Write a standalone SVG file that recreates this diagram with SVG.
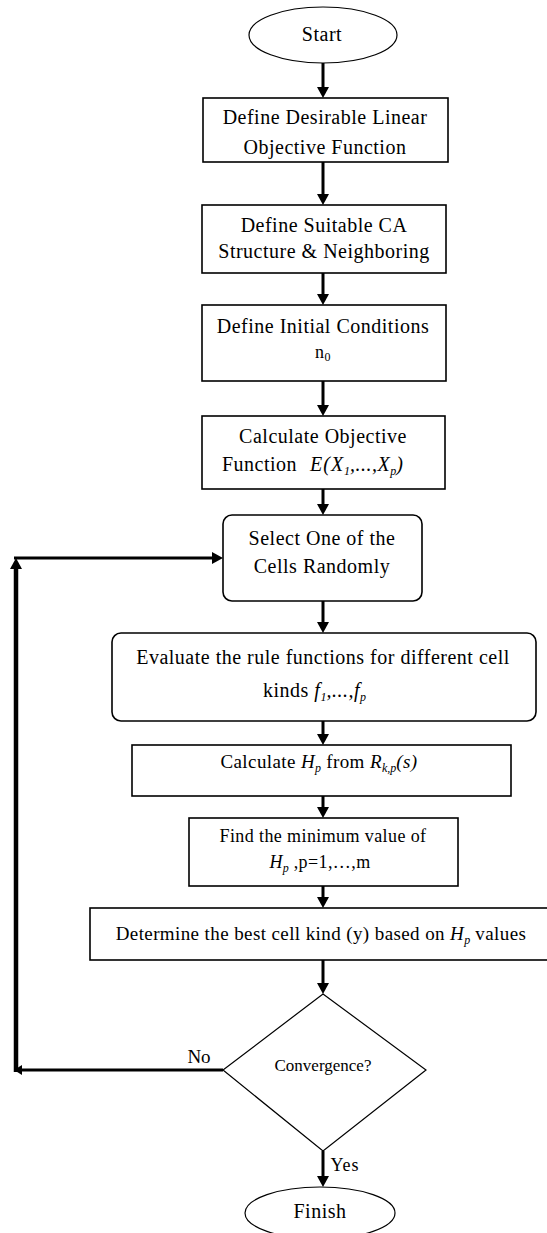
<svg xmlns="http://www.w3.org/2000/svg" width="547" height="1233" viewBox="0 0 547 1233">
  <style>
    .box { fill: #ffffff; stroke: #000000; stroke-width: 1.6; }
    .term { fill: #ffffff; stroke: #000000; stroke-width: 1.2; }
    .t { font-family: "Liberation Serif", "Times New Roman", serif; font-size: 20px; letter-spacing: 0.5px; fill: #000000; text-anchor: middle; }
    .s { font-size: 18px; letter-spacing: 0.4px; }
    .s2 { font-size: 19px; letter-spacing: 0.4px; }
    .m { font-style: italic; }
    .sub { font-size: 12px; font-style: italic; letter-spacing: 0; }
    .flow { fill: none; stroke: #000000; stroke-width: 3; }
    .loop { fill: none; stroke: #000000; stroke-width: 4.5; }
  </style>
  <defs>
    <marker id="arrow" viewBox="0 -6 11 12" markerWidth="11" markerHeight="12" refX="0" refY="0" markerUnits="userSpaceOnUse" orient="auto">
      <path d="M0,-6 L11,0 L0,6 z" fill="#000000"/>
    </marker>
    <marker id="arrow-small" viewBox="0 -5 8 10" markerWidth="8" markerHeight="10" refX="0" refY="0" markerUnits="userSpaceOnUse" orient="auto">
      <path d="M0,-5 L8,0 L0,5 z" fill="#000000"/>
    </marker>
  </defs>

  <!-- connectors -->
  <g id="connectors">
    <line class="flow" x1="323" y1="63" x2="323" y2="87" marker-end="url(#arrow)"/>
    <line class="flow" x1="323" y1="162" x2="323" y2="194" marker-end="url(#arrow)"/>
    <line class="flow" x1="323" y1="273" x2="323" y2="294" marker-end="url(#arrow)"/>
    <line class="flow" x1="323" y1="381" x2="323" y2="405" marker-end="url(#arrow)"/>
    <line class="flow" x1="323" y1="489" x2="323" y2="504" marker-end="url(#arrow)"/>
    <line class="flow" x1="323" y1="601" x2="323" y2="622" marker-end="url(#arrow)"/>
    <line class="flow" x1="323" y1="721" x2="323" y2="734" marker-end="url(#arrow)"/>
    <line class="flow" x1="323" y1="796" x2="323" y2="807" marker-end="url(#arrow)"/>
    <line class="flow" x1="323" y1="886" x2="323" y2="897" marker-end="url(#arrow)"/>
    <line class="flow" x1="323" y1="960" x2="323" y2="983" marker-end="url(#arrow)"/>
    <line class="flow" x1="323" y1="1151" x2="323" y2="1176" marker-end="url(#arrow)"/>
    <!-- "No" branch back to the cell selection -->
    <line class="flow" x1="223" y1="1070" x2="22" y2="1070" marker-end="url(#arrow-small)"/>
    <line class="loop" x1="16" y1="1072" x2="16" y2="569" marker-end="url(#arrow)"/>
    <line class="flow" x1="14" y1="558" x2="212" y2="558" marker-end="url(#arrow)"/>
    <text class="t" x="199" y="1063" style="font-size:19px;letter-spacing:0">No</text>
    <text class="t" x="345" y="1171" style="font-size:18px;letter-spacing:1px">Yes</text>
  </g>

  <g id="start">
    <ellipse class="term" cx="323" cy="35" rx="74" ry="28"/>
    <text class="t" x="322" y="41">Start</text>
  </g>

  <g id="objective">
    <rect class="box" x="203" y="98" width="245" height="64"/>
    <text class="t" x="325" y="124">Define Desirable Linear</text>
    <text class="t" x="325" y="154">Objective Function</text>
  </g>

  <g id="structure">
    <rect class="box" x="202" y="205" width="244" height="68"/>
    <text class="t" x="324" y="232">Define Suitable CA</text>
    <text class="t" x="324" y="258">Structure &amp; Neighboring</text>
  </g>

  <g id="initial">
    <rect class="box" x="202" y="305" width="244" height="76"/>
    <text class="t" x="323" y="333">Define Initial Conditions</text>
    <text class="t" x="323" y="358" style="font-size:18px">n<tspan font-size="12" dy="3">0</tspan></text>
  </g>

  <g id="calc-objective">
    <rect class="box" x="202" y="416" width="243" height="73"/>
    <text class="t" x="323" y="443">Calculate Objective</text>
    <text class="t" x="222" y="471" style="text-anchor:start">Function<tspan x="310" class="m" letter-spacing="1">E(X</tspan><tspan class="sub" dy="4">1</tspan><tspan dy="-4" class="m">,...,X</tspan><tspan class="sub" dy="4">p</tspan><tspan dy="-4" class="m">)</tspan></text>
  </g>

  <g id="select-cell">
    <rect class="box" x="223" y="515" width="199" height="86" rx="9" ry="9"/>
    <text class="t" x="322" y="545">Select One of the</text>
    <text class="t" x="322" y="573">Cells Randomly</text>
  </g>

  <g id="rule-functions">
    <rect class="box" x="112" y="633" width="424" height="88" rx="9" ry="9"/>
    <text class="t" x="323" y="664">Evaluate the rule functions for different cell</text>
    <text class="t" x="263" y="697" style="text-anchor:start">kinds <tspan class="m">f</tspan><tspan class="sub" dy="4">1</tspan><tspan dy="-4" class="m">,...,f</tspan><tspan class="sub" dy="4">p</tspan></text>
  </g>

  <g id="calc-h">
    <rect class="box" x="132" y="745" width="379" height="51"/>
    <text class="t s2" x="319" y="768">Calculate <tspan class="m">H</tspan><tspan class="sub" dy="4">p</tspan><tspan dy="-4"> from </tspan><tspan class="m">R</tspan><tspan class="sub" dy="4">k,p</tspan><tspan dy="-4" class="m">(s)</tspan></text>
  </g>

  <g id="minimum">
    <rect class="box" x="189" y="818" width="269" height="68"/>
    <text class="t s" x="323" y="842">Find the minimum value of</text>
    <text class="t s" x="320" y="868"><tspan class="m">H</tspan><tspan class="sub" dy="4">p</tspan><tspan dy="-4"> ,p=1,…,m</tspan></text>
  </g>

  <g id="best-kind">
    <rect class="box" x="90" y="908" width="466" height="52"/>
    <text class="t s2" x="321" y="940">Determine the best cell kind (y) based on <tspan class="m">H</tspan><tspan class="sub" dy="4">p</tspan><tspan dy="-4"> values</tspan></text>
  </g>

  <g id="convergence">
    <polygon class="term" points="323,994 426,1070 323,1151 223,1070"/>
    <text class="t" x="323" y="1071" style="font-size:17px;letter-spacing:0">Convergence?</text>
  </g>

  <g id="finish">
    <ellipse class="term" cx="320" cy="1213" rx="75" ry="26"/>
    <text class="t" x="320" y="1218">Finish</text>
  </g>
</svg>
